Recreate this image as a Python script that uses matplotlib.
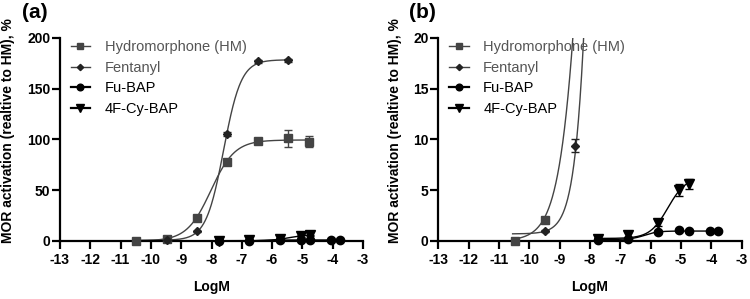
import numpy as np
import matplotlib
matplotlib.use('Agg')
import matplotlib.pyplot as plt

plt.rcParams['font.family'] = ['Liberation Sans', 'DejaVu Sans']

# data (log molar concentration vs % activation)
hm_x = [-10.48, -9.48, -8.48, -7.48, -6.48, -5.48, -4.78]
hm_y = [0.0, 2.1, 23.0, 78.0, 98.5, 101.0, 98.0]
hm_err = [0.1, 0.3, 1.5, 2.0, 2.0, 8.0, 5.0]

fen_x = [-9.48, -8.48, -7.48, -6.48, -5.48]
fen_y = [0.96, 9.4, 105.0, 177.0, 178.0]
fen_err = [0.1, 0.6, 2.0, 1.5, 1.5]

fu_x = [-7.75, -6.75, -5.75, -5.05, -4.75, -4.05, -3.77]
fu_y = [0.1, 0.2, 0.9, 1.1, 0.95, 0.95, 0.95]
fu_err = [0.05, 0.05, 0.1, 0.1, 0.1, 0.05, 0.05]

cy_x = [-7.75, -6.75, -5.75, -5.05, -4.75]
cy_y = [0.2, 0.6, 1.8, 5.0, 5.6]
cy_err = [0.05, 0.3, 0.3, 0.6, 0.5]

# fitted 4-parameter curves: bottom, top, logEC50, hill, x range
hm_fit = [0.0, 99.5, -8.02, 1.1, -10.48, -4.78]
fen_fit = [0.7, 178.5, -7.6, 1.5, -10.55, -5.48]
fu_fit = [0.15, 0.98, -6.2, 2.0, -7.75, -3.77]
cy_fit = [0.25, 6.3, -5.43, 1.46, -7.75, -4.75]

labels = ['Hydromorphone (HM)', 'Fentanyl', 'Fu-BAP', '4F-Cy-BAP']
xticks = list(range(-13, -2))

GRAY = '#444444'
# x, y, err, fit, marker, size, marker colour, line colour, text colour, legend line width
series = [
    (hm_x, hm_y, hm_err, hm_fit, 's', 6.0, GRAY, GRAY, '#555555', 1.0),
    (fen_x, fen_y, fen_err, fen_fit, 'D', 4.0, '#222222', GRAY, '#555555', 1.0),
    (fu_x, fu_y, fu_err, fu_fit, 'o', 6.0, 'black', 'black', 'black', 1.6),
    (cy_x, cy_y, cy_err, cy_fit, 'v', 6.5, 'black', 'black', 'black', 1.6),
]


def hill(x, p):
    bottom, top, ec50, h = p[:4]
    return bottom + (top - bottom) / (1 + 10 ** (h * (ec50 - x)))


def panel(ax, ymax, yticks, labx):
    handles = []
    for (x, y, e, fit, mk, ms, mc, lc, tc, lw) in series:
        xx = np.linspace(fit[4], fit[5], 300)
        ax.plot(xx, hill(xx, fit), color=lc, lw=1.0, zorder=2)
        x = np.array(x)
        y = np.array(y)
        e = np.array(e)
        keep = y <= ymax
        ax.errorbar(x[keep], y[keep], yerr=e[keep], fmt=mk, ms=ms, color=mc,
                    ecolor=mc, elinewidth=1.0, capsize=3, capthick=1.0,
                    clip_on=False, zorder=3)
        h, = ax.plot([], [], marker=mk, ms=ms * 0.8, color=lc, mfc=mc, mec=mc, lw=lw)
        handles.append(h)
    leg = ax.legend(handles, labels, loc='upper left', bbox_to_anchor=(0.035, 0.99),
                    frameon=False, fontsize=10.5, handlelength=1.35, handletextpad=1.0,
                    labelspacing=0.46, borderpad=0, borderaxespad=0)
    for t, s in zip(leg.get_texts(), series):
        t.set_color(s[8])
    ax.set_xlim(-13, -3)
    ax.set_ylim(0, ymax)
    ax.set_xticks(xticks)
    ax.set_yticks(yticks)
    ax.set_xticklabels([str(v) for v in xticks], fontweight='bold', fontsize=10)
    ax.set_yticklabels([str(v) for v in yticks], fontweight='bold', fontsize=10)
    for s in ['top', 'right']:
        ax.spines[s].set_visible(False)
    for s in ['left', 'bottom']:
        ax.spines[s].set_linewidth(1.6)
    ax.tick_params(width=1.6, length=5.5)
    ax.tick_params(axis='x', pad=3.5)
    ax.tick_params(axis='y', pad=1.5)
    ax.set_xlabel('LogM', fontweight='bold', fontsize=10, labelpad=9)
    ax.set_ylabel('MOR activation (realtive to HM), %', fontweight='bold', fontsize=10)
    ax.yaxis.set_label_coords(labx, 0.545)


fig = plt.figure(figsize=(7.5, 2.99), dpi=100)
ax1 = fig.add_axes([0.08, 0.194, 0.404, 0.679])
ax2 = fig.add_axes([0.5844, 0.194, 0.4045, 0.679])
panel(ax1, 200, [0, 50, 100, 150, 200], -0.149)
panel(ax2, 20, [0, 5, 10, 15, 20], -0.12)
fig.text(0.029, 0.957, '(a)', fontsize=15, fontweight='bold', va='center')
fig.text(0.545, 0.957, '(b)', fontsize=15, fontweight='bold', va='center')

fig.savefig('out.png', dpi=100)
